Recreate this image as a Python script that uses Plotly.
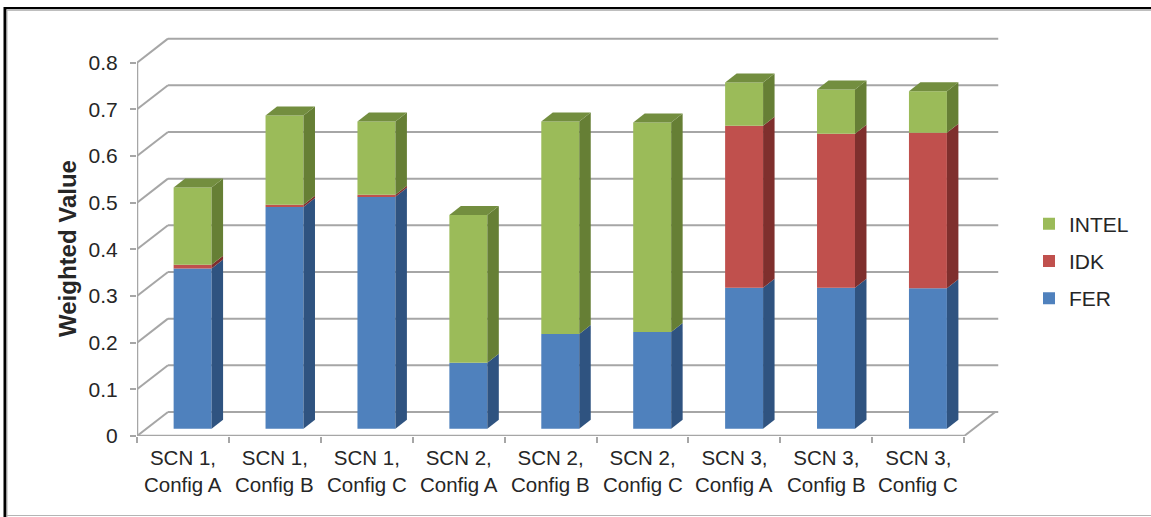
import plotly.graph_objects as go

scenarios = ["SCN 1,", "SCN 1,", "SCN 1,", "SCN 2,", "SCN 2,", "SCN 2,", "SCN 3,", "SCN 3,", "SCN 3,"]
configs = ["Config A", "Config B", "Config C", "Config A", "Config B", "Config C",
           "Config A", "Config B", "Config C"]
fer = [0.343, 0.475, 0.497, 0.141, 0.203, 0.207, 0.302, 0.302, 0.301]
idk = [0.008, 0.005, 0.004, 0, 0, 0, 0.347, 0.330, 0.333]
intel = [0.166, 0.191, 0.157, 0.317, 0.455, 0.449, 0.093, 0.095, 0.089]
y_ticks = [0, 0.1, 0.2, 0.3, 0.4, 0.5, 0.6, 0.7, 0.8]
y_labels = ["0", "0.1", "0.2", "0.3", "0.4", "0.5", "0.6", "0.7", "0.8"]

W, H = 1151, 517
ML, MR, MT, MB = 137, 150, 16, 81
X_MIN, X_MAX, Y_MAX = -0.5, 8.9, 0.9
FONT = "Liberation Sans"
INK = "#262626"
GRID = "#a6a6a6"
# oblique projection of the chart's depth, in axis units
WALL_DX, WALL_DY = 0.337, 0.0515
BAR_SHIFT_X, BAR_SHIFT_Y = 0.105, 0.0157
BAR_DX, BAR_DY = 0.125, 0.0193
BAR_W = 0.413

series = [("FER", fer, "#4f81bd", "#2f5380", "#3a6496", 3),
          ("IDK", idk, "#c0504d", "#7f2f2d", "#96403d", 2),
          ("INTEL", intel, "#9bbb59", "#667f35", "#738e3f", 1)]

fig = go.Figure()
n = len(configs)
xs = list(range(n))
base = [0.0] * n
polys = []
for name, vals, col, side, top, rank in series:
    fig.add_trace(go.Bar(
        x=xs, y=vals, base=[b + BAR_SHIFT_Y for b in base], name=name,
        width=BAR_W, offset=BAR_SHIFT_X - BAR_W / 2,
        marker=dict(color=col, line=dict(width=0)),
        legendgroup=name, legendrank=rank))
    for i in xs:
        b0 = base[i] + BAR_SHIFT_Y
        b1 = b0 + vals[i]
        xr = i + BAR_SHIFT_X + BAR_W / 2
        if vals[i] > 0:
            polys.append(([xr, xr + BAR_DX, xr + BAR_DX, xr, xr],
                          [b0, b0 + BAR_DY, b1 + BAR_DY, b1, b0], side))
        if name == "INTEL":
            xl = xr - BAR_W
            polys.append(([xl, xl + BAR_DX, xr + BAR_DX, xr, xl],
                          [b1, b1 + BAR_DY, b1 + BAR_DY, b1, b1], top))
    base = [b + v for b, v in zip(base, vals)]

for px_, py_, c in polys:
    fig.add_trace(go.Scatter(x=px_, y=py_, mode="lines", fill="toself", fillcolor=c,
                             line=dict(width=0, color=c), showlegend=False, hoverinfo="skip"))

shapes = []
def seg(x0, y0, x1, y1, w=2):
    shapes.append(dict(type="line", xref="x", yref="y", x0=x0, y0=y0, x1=x1, y1=y1,
                       layer="below", line=dict(color=GRID, width=w)))

for t in y_ticks:
    seg(X_MIN, t, X_MIN + WALL_DX, t + WALL_DY)
    seg(X_MIN + WALL_DX, t + WALL_DY, X_MAX - 0.03, t + WALL_DY)
seg(X_MIN, 0, X_MIN, y_ticks[-1], 2.5)
seg(X_MIN, 0, n - 0.5, 0, 2.5)
seg(n - 0.5, 0, n - 0.5 + WALL_DX, WALL_DY)

def px(xp):
    return (xp - ML) / (W - ML - MR)
def py(yp):
    return 1 - (yp - MT) / (H - MT - MB)
def frame(x0, y0, x1, y1, color, w):
    shapes.append(dict(type="line", xref="paper", yref="paper", x0=px(x0), y0=py(y0),
                       x1=px(x1), y1=py(y1), layer="above", line=dict(color=color, width=w)))
frame(4, 8, W, 8, "#000000", 2)
frame(5, 7, 5, H, "#000000", 3)
frame(7, 10, W, 10, "#a8a8a8", 1.5)
frame(7, 10, 7, H, "#b0b0b0", 1)
frame(7, 515.5, W, 515.5, "#b4b4b4", 1)

annotations = [dict(x=i, y=py(484), xref="x", yref="paper", text=c, showarrow=False,
                    xanchor="center", yanchor="middle", borderpad=0,
                    font=dict(size=20.5, family=FONT, color=INK))
               for i, c in zip(xs, configs)]
annotations.append(dict(x=px(67), y=py(249), xref="paper", yref="paper",
                        text="<b>Weighted Value</b>", textangle=-90, showarrow=False,
                        xanchor="center", yanchor="middle",
                        font=dict(size=24, family=FONT, color=INK)))

fig.update_layout(
    width=W, height=H, margin=dict(l=ML, r=MR, t=MT, b=MB, autoexpand=False),
    paper_bgcolor="white", plot_bgcolor="white", barmode="overlay",
    font=dict(family=FONT, color=INK, size=21),
    shapes=shapes, annotations=annotations,
    xaxis=dict(range=[X_MIN, X_MAX], tickmode="array", tickvals=xs, ticktext=scenarios,
               showgrid=False, zeroline=False, showline=False, ticks="", ticklabelstandoff=7,
               tickangle=0, tickfont=dict(size=20.5, family=FONT, color=INK),
               minor=dict(tickmode="array", tickvals=[i - 0.5 for i in range(n + 1)],
                          ticks="outside", ticklen=6, tickwidth=2, tickcolor=GRID, showgrid=False)),
    yaxis=dict(range=[0, Y_MAX], tickmode="array", tickvals=y_ticks, ticktext=y_labels,
               showgrid=False, zeroline=False, showline=False, ticks="outside", ticklen=6,
               tickwidth=2, tickcolor=GRID, ticklabelstandoff=8,
               tickfont=dict(size=21, family=FONT, color=INK)),
    legend=dict(x=px(1029), y=py(203.5), xanchor="left", yanchor="top", traceorder="grouped",
                tracegroupgap=7, bgcolor="rgba(0,0,0,0)", font=dict(size=21, family=FONT, color=INK)),
)
fig.write_html("out.html", post_script="document.body.style.margin='0';",
               config={"displayModeBar": False})
